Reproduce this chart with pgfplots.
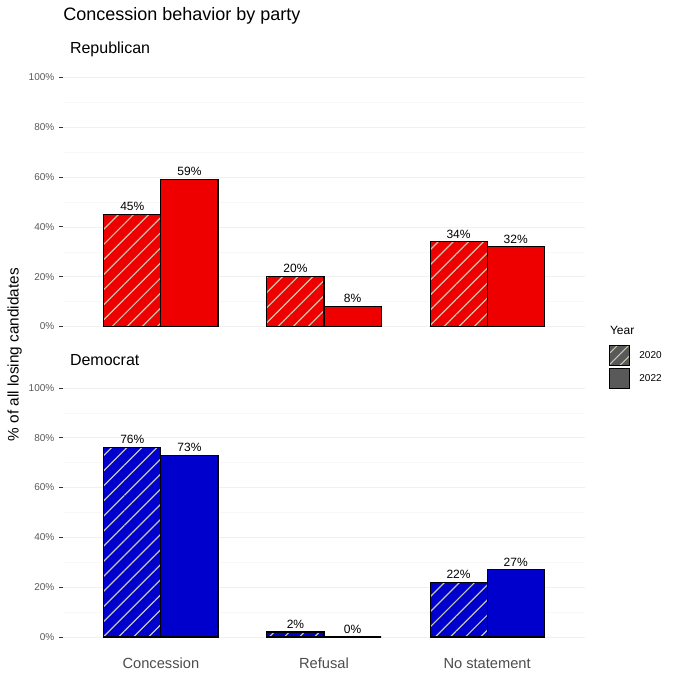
\documentclass[border=0pt]{standalone}
\usepackage{pgfplots}
\pgfplotsset{compat=1.18}
\usetikzlibrary{patterns.meta}
\usepackage{fontspec}
\setmainfont{Liberation Sans}
\definecolor{rep}{HTML}{EE0000}
\definecolor{dem}{HTML}{0000CC}
\definecolor{keyg}{HTML}{595959}
\definecolor{hatchc}{HTML}{C8C8B0}
\pgfplotsset{
  panel/.style={
    scale only axis, width=391.5pt, height=205.5pt,
    xmin=0.4, xmax=3.6, ymin=-5, ymax=105,
    axis line style={draw=none},
    xtick={1,2,3}, xticklabels={}, major x tick style={draw=none},
    ytick={0,20,40,60,80,100}, ytick pos=left,
    yticklabels={0\%,20\%,40\%,60\%,80\%,100\%},
    minor ytick={10,30,50,70,90},
    ymajorgrids, yminorgrids, xmajorgrids=false,
    major grid style={gray!12, line width=0.5pt},
    minor grid style={gray!6, line width=0.4pt},
    major y tick style={black!80, line width=0.6pt},
    minor y tick style={draw=none},
    tick align=outside, major tick length=3pt,
    yticklabel style={font=\fontsize{7.5}{8}\selectfont, text=black!65},
    /pgf/number format/assume math mode=true,
    bar width=0.35, ybar, bar shift=0pt,
    nodes near coords={\pgfmathprintnumber[assume math mode=true]{\pgfplotspointmeta}\%},
    every node near coord/.append style={font=\fontsize{9}{10}\selectfont, black, yshift=-1pt},
    clip=false,
  },
  hatch/.style={postaction={pattern={Lines[angle=45,distance=8pt,line width=0.9pt]}, pattern color=hatchc}},
}
\begin{document}
\begin{tikzpicture}
\path (0,0) rectangle (510pt,510pt);
\node[anchor=west, font=\fontsize{13.5}{15}\selectfont] at (44pt,498pt) {Concession behavior by party};
% Republican
\begin{axis}[panel, at={(47.25pt,255.75pt)}, anchor=south west]
\addplot[draw=black, line width=0.8pt, fill=rep, hatch] coordinates {(0.825,45) (1.825,20) (2.825,34)};
\addplot[draw=black, line width=0.8pt, fill=rep] coordinates {(1.175,59) (2.175,8) (3.175,32)};
\end{axis}
\node[anchor=west, font=\fontsize{12}{14}\selectfont] at (49pt,473pt) {Republican};
% Democrat
\begin{axis}[panel, at={(47.25pt,22.9pt)}, anchor=south west,
  xticklabels={Concession,Refusal,No statement},
  xticklabel style={font=\fontsize{11}{12}\selectfont, text=black!70}]
\addplot[draw=black, line width=0.8pt, fill=dem, hatch] coordinates {(0.825,76) (1.825,2) (2.825,22)};
\addplot[draw=black, line width=0.8pt, fill=dem] coordinates {(1.175,73) (2.175,0) (3.175,27)};
\end{axis}
\node[anchor=west, font=\fontsize{12}{14}\selectfont] at (49pt,240pt) {Democrat};
\node[rotate=90, font=\fontsize{11.5}{13}\selectfont] at (11pt,244pt) {\% of all losing candidates};
% legend
\node[anchor=west, font=\fontsize{9}{10}\selectfont] at (454pt,262pt) {Year};
\fill[keyg, postaction={pattern={Lines[angle=45,distance=6pt,line width=0.8pt]}, pattern color=hatchc}] (457pt,236pt) rectangle (472pt,251pt);
\draw[black] (457pt,236pt) rectangle (472pt,251pt);
\fill[keyg] (457pt,219pt) rectangle (472pt,234pt);
\draw[black] (457pt,219pt) rectangle (472pt,234pt);
\node[anchor=west, font=\fontsize{7.5}{8}\selectfont] at (476pt,243.5pt) {2020};
\node[anchor=west, font=\fontsize{7.5}{8}\selectfont] at (476pt,226.5pt) {2022};
\end{tikzpicture}
\end{document}
